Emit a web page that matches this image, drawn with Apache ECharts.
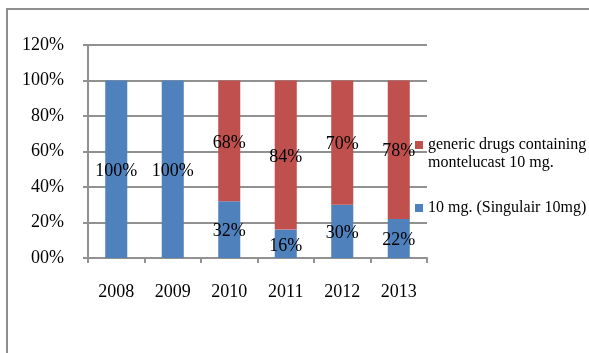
<!DOCTYPE html>
<html>
<head>
<meta charset="utf-8">
<script src="https://cdn.jsdelivr.net/npm/echarts@6/dist/echarts.min.js"></script>
<style>
  html, body { margin: 0; padding: 0; background: #fff; }
  #chart { width: 589px; height: 353px; }
</style>
</head>
<body>
<div id="chart"></div>
<script>
// Market share of montelucast 10 mg, by year
const years = ['2008', '2009', '2010', '2011', '2012', '2013'];
const singulairShare = [100, 100, 32, 16, 30, 22];
const genericShare = [0, 0, 68, 84, 70, 78];
const yTicks = [0, 20, 40, 60, 80, 100, 120];

const singulairName = '10 mg. (Singulair 10mg)';
const genericName = 'generic drugs containing montelucast 10 mg.';

const FONT = "'Liberation Serif', 'Times New Roman', serif";
const GRID_GRAY = '#919191';

const chart = echarts.init(document.getElementById('chart'), null, { renderer: 'canvas' });

const valueLabel = {
  show: true,
  position: 'inside',
  offset: [0, 2],
  color: '#000',
  fontFamily: FONT,
  fontSize: 18,
  formatter: p => (p.value ? p.value + '%' : '')
};

chart.setOption({
  animation: false,
  backgroundColor: '#fff',
  graphic: [{
    type: 'rect',
    shape: { x: 7, y: 9, width: 640, height: 420 },
    style: { fill: 'none', stroke: '#8e8e8e', lineWidth: 2 },
    silent: true
  }],
  grid: { left: 88, top: 45, right: 162, bottom: 95, containLabel: false },
  legend: [{
    orient: 'vertical',
    left: 415,
    top: 118,
    padding: 0,
    itemWidth: 8,
    itemHeight: 8,
    icon: 'rect',
    data: [genericName],
    // blank first line keeps the marker level with the first line of text
    formatter: () => ' \ngeneric drugs containing\nmontelucast 10 mg.',
    textStyle: { fontFamily: FONT, fontSize: 16, color: '#000', lineHeight: 18 }
  }, {
    orient: 'vertical',
    left: 415,
    top: 199,
    padding: 0,
    itemWidth: 8,
    itemHeight: 8,
    icon: 'rect',
    data: [singulairName],
    textStyle: { fontFamily: FONT, fontSize: 16, color: '#000', lineHeight: 18 }
  }],
  xAxis: {
    type: 'category',
    data: years,
    axisLine: { lineStyle: { color: GRID_GRAY, width: 2 } },
    axisTick: { show: true, length: 5, lineStyle: { color: GRID_GRAY, width: 2 } },
    axisLabel: { color: '#000', fontFamily: FONT, fontSize: 18, margin: 25 }
  },
  yAxis: {
    type: 'value',
    min: yTicks[0],
    max: yTicks[yTicks.length - 1],
    interval: yTicks[1] - yTicks[0],
    axisLine: { show: true, lineStyle: { color: GRID_GRAY, width: 2 } },
    axisTick: { show: true, length: 5, lineStyle: { color: GRID_GRAY, width: 2 } },
    splitLine: { show: true, lineStyle: { color: GRID_GRAY, width: 2 } },
    axisLabel: {
      color: '#000', fontFamily: FONT, fontSize: 18, margin: 24,
      formatter: v => (v === 0 ? '00' : v) + '%'
    }
  },
  series: [{
    name: singulairName,
    type: 'bar',
    stack: 'share',
    barWidth: '39%',
    itemStyle: { color: '#4F81BD' },
    label: valueLabel,
    data: singulairShare
  }, {
    name: genericName,
    type: 'bar',
    stack: 'share',
    barWidth: '39%',
    itemStyle: { color: '#C0504D' },
    label: valueLabel,
    data: genericShare
  }]
});
</script>
</body>
</html>
